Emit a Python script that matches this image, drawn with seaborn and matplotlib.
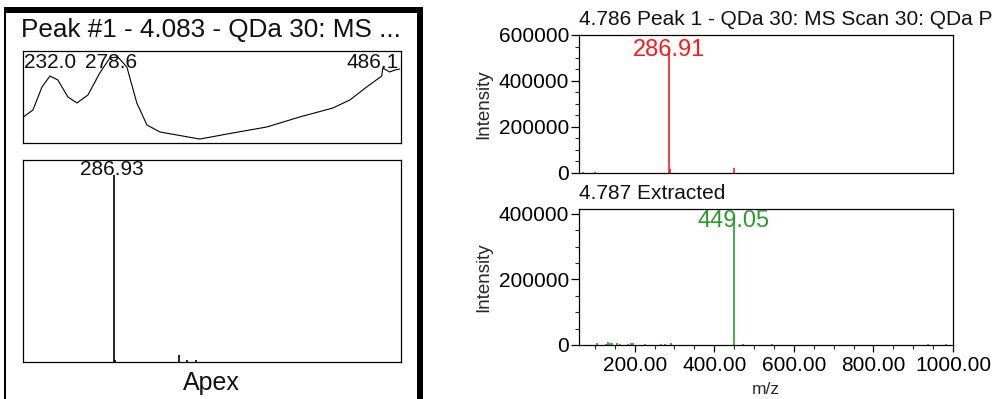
import numpy as np
import pandas as pd
import matplotlib
matplotlib.use("Agg")
import matplotlib.pyplot as plt
from matplotlib.patches import Rectangle
from matplotlib.ticker import MultipleLocator, FuncFormatter, FixedLocator
import seaborn as sns

# ---------------- data ----------------
left_title = "Peak #1 - 4.083 - QDa 30: MS ..."
uv_wavelength = [211.6, 219.0, 225.9, 232.0, 238.0, 245.7, 252.6, 261.0, 270.0, 277.7,
                 283.8, 290.7, 298.3, 306.0, 315.9, 328.9, 346.4, 371.6, 397.5, 422.7,
                 447.9, 460.9, 473.8, 485.3, 486.1, 491.4, 495.2, 499.0]
uv_absorbance = [0.283, 0.359, 0.609, 0.728, 0.685, 0.500, 0.435, 0.522, 0.761, 0.924,
                 0.935, 0.826, 0.435, 0.196, 0.120, 0.087, 0.043, 0.109, 0.174, 0.283,
                 0.380, 0.467, 0.609, 0.728, 0.815, 0.772, 0.793, 0.804]
uv_peak_labels = [232.0, 278.6, 486.1]

apex_mz = [286.93, 289.0, 449.0, 469.0, 491.0]
apex_rel = [0.926, 0.012, 0.035, 0.008, 0.008]
apex_label = 286.93

top_title = "4.786 Peak 1 - QDa 30: MS Scan 30: QDa P"
top_mz = [69.0, 100.0, 286.91, 289.0, 449.0]
top_int = [4000, 4000, 535000, 18000, 20000]
top_label = 286.91

bot_title = "4.787 Extracted"
bot_mz = [106, 128, 132, 138, 144, 155, 163, 184, 190, 195, 225, 265, 277, 292,
          449.05, 473, 544, 938, 982]
bot_int = [6000, 4000, 9000, 7000, 5000, 5000, 4000, 4000, 7000, 6000, 3000, 3000, 4000, 6000,
           375000, 4000, 3000, 3000, 4000]
bot_label = 449.05

mz_ticks = [200, 400, 600, 800, 1000]
int_ticks = [0, 200000, 400000, 600000]

# ---------------- style ----------------
sns.set_theme(style="white")
plt.rcParams["font.family"] = ["Liberation Sans", "DejaVu Sans"]
plt.rcParams["axes.edgecolor"] = "black"
plt.rcParams["axes.linewidth"] = 0.9

W, H = 995, 399
fig = plt.figure(figsize=(W / 100, H / 100), dpi=100)
fig.patch.set_facecolor("white")


def fax(x0, y0, x1, y1):
    return fig.add_axes([x0 / W, 1 - y1 / H, (x1 - x0) / W, (y1 - y0) / H])


# ---------------- left panel frame ----------------
fig.add_artist(Rectangle((4.5 / W, 0), 1.6 / W, 1 - 7 / H, transform=fig.transFigure,
                         color="black", lw=0))
fig.add_artist(Rectangle((4.5 / W, 1 - 12.5 / H), (423 - 4.5) / W, 5.5 / H,
                         transform=fig.transFigure, color="black", lw=0))
fig.add_artist(Rectangle((417 / W, 0), 6 / W, 1 - 7 / H, transform=fig.transFigure,
                         color="black", lw=0))
fig.text(21 / W, 1 - 36.5 / H, left_title, fontsize=18.8, ha="left", va="baseline",
         color="#111111")

# ---------------- UV spectrum ----------------
ax_uv = fax(23, 51, 401, 143)
uv_df = pd.DataFrame({"wl": uv_wavelength, "abs": uv_absorbance})
sns.lineplot(data=uv_df, x="wl", y="abs", ax=ax_uv, color="black", lw=0.8, sort=False)
ax_uv.set_xlim(211.4, 500)
ax_uv.set_ylim(0, 1)
ax_uv.set_xticks([])
ax_uv.set_yticks([])
ax_uv.set_xlabel("")
ax_uv.set_ylabel("")
for i, wl in enumerate(uv_peak_labels):
    if i == len(uv_peak_labels) - 1:
        ax_uv.text(0.995, 0.815, f"{wl:.1f}", transform=ax_uv.transAxes, ha="right",
                   va="baseline", fontsize=15, color="#111111")
    else:
        ax_uv.text(wl, 0.815, f"{wl:.1f}", ha="center", va="baseline", fontsize=15,
                   color="#111111")

# ---------------- Apex MS ----------------
ax_ap = fax(23, 160, 401, 362)
ax_ap.vlines(apex_mz, 0, apex_rel, color="black", lw=1.2)
ax_ap.set_xlim(60, 1000)
ax_ap.set_ylim(0, 1)
ax_ap.set_xticks([])
ax_ap.set_yticks([])
ax_ap.annotate(f"{apex_label:.2f}", (apex_label, max(apex_rel)), xytext=(-2, 4),
               textcoords="offset points", ha="center", va="center", fontsize=15,
               color="#111111")
fig.text(211 / W, 1 - 383 / H, "Apex", fontsize=18, ha="center", va="center",
         color="#111111")

# ---------------- right spectra ----------------
ax_top = fax(579, 35, 953, 173)
ax_bot = fax(579, 209, 953, 345)

int_fmt = FuncFormatter(lambda v, p: f"{v:.0f}")
for ax in (ax_top, ax_bot):
    ax.set_xlim(60, 1000)
    ax.yaxis.set_major_locator(MultipleLocator(200000))
    ax.yaxis.set_minor_locator(MultipleLocator(50000))
    ax.yaxis.set_major_formatter(int_fmt)
    ax.tick_params(axis="y", which="major", length=6, width=0.9, labelsize=15, pad=1,
                   left=True, colors="black")
    ax.tick_params(axis="y", which="minor", length=3, width=0.8, left=True)
    ax.set_ylabel("Intensity", fontsize=13.5)
    ax.yaxis.set_label_coords((492 - 579) / 374, 0.5)
    for s in ax.spines.values():
        s.set_color("black")
        s.set_linewidth(0.9)

ax_top.vlines(top_mz, 0, top_int, color="#ff1a1a", lw=1.2)
ax_top.set_ylim(0, 600000)
ax_top.set_yticks(int_ticks)
ax_top.set_xticks([])
ax_top.annotate(f"{top_label:.2f}", (top_label, max(top_int)), xytext=(0, 0),
                textcoords="offset points", ha="center", va="center", fontsize=17,
                color="#ff1a1a")
ax_top.text(0, 1.04, top_title, transform=ax_top.transAxes, ha="left", va="bottom",
            fontsize=15, color="#111111")

ax_bot.vlines(bot_mz, 0, bot_int, color="#2e9a2e", lw=1.2)
ax_bot.set_ylim(0, 415000)
ax_bot.set_yticks(int_ticks[:3])
ax_bot.xaxis.set_major_locator(FixedLocator(mz_ticks))
ax_bot.xaxis.set_minor_locator(MultipleLocator(50))
ax_bot.xaxis.set_major_formatter(FuncFormatter(lambda v, p: f"{v:.2f}"))
ax_bot.tick_params(axis="x", which="major", length=5, width=0.9, labelsize=15, pad=3,
                   bottom=True, colors="black")
ax_bot.tick_params(axis="x", which="minor", length=3, width=0.8, bottom=True)
ax_bot.set_xlabel("m/z", fontsize=12.5)
ax_bot.xaxis.set_label_coords(0.5, (345 - 382) / 136)
ax_bot.annotate(f"{bot_label:.2f}", (bot_label, max(bot_int)), xytext=(0, 1),
                textcoords="offset points", ha="center", va="center", fontsize=17,
                color="#2e9a2e")
ax_bot.text(0, 1.045, bot_title, transform=ax_bot.transAxes, ha="left", va="bottom",
            fontsize=15, color="#111111")

fig.savefig("out.png", dpi=100)
